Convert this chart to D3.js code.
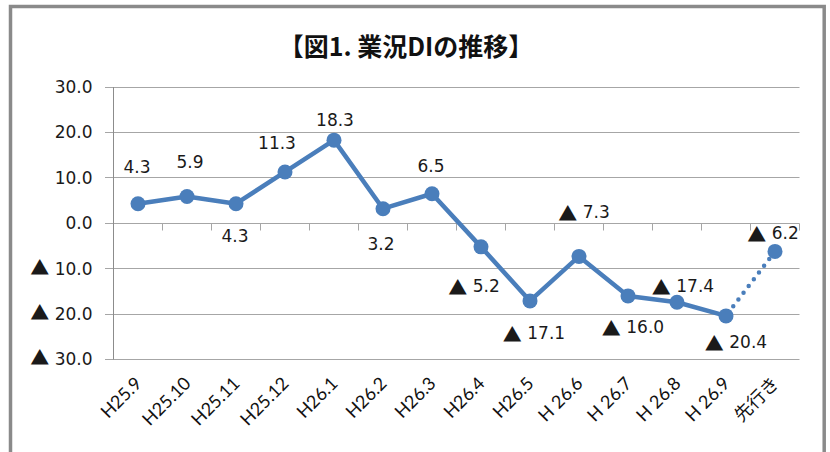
<!DOCTYPE html>
<html><head><meta charset="utf-8">
<script src="https://cdn.jsdelivr.net/npm/d3@7/dist/d3.min.js"></script>
<style>body{margin:0;background:#fff;} svg{display:block;}</style>
</head><body><svg id="chart" width="830" height="452"></svg>
<script>
// ---- data ----
const title = "【図1. 業況DIの推移】";
const categories = ["H25.9","H25.10","H25.11","H25.12","H26.1","H26.2","H26.3","H26.4","H26.5","H 26.6","H 26.7","H 26.8","H 26.9","先行き"];
const values = [4.3, 5.9, 4.3, 11.3, 18.3, 3.2, 6.5, -5.2, -17.1, -7.3, -16.0, -17.4, -20.4, -6.2];
const yTicks = [30, 20, 10, 0, -10, -20, -30];
const forecastCategory = "先行き";

// ---- layout / style (not data) ----
const labelOffsets = [[-1,-37],[3,-34],[-1,32],[-8,-29],[1,-20],[-2,35],[-1,-28],[-7,39],[4,32],[5,-44],[5,31],[6,-16],[10,26],[-2,-18]];
const W = 830, H = 452;
const plot = {left: 113.5, right: 799.5, top: 87, bottom: 359.5};
const blue = "#4a7ebb";
const numFont = "'DejaVu Sans', sans-serif";
const cjkFont = "'Noto Sans CJK JP', sans-serif";

const svg = d3.select("#chart");
svg.append("rect").attr("width", W).attr("height", H).attr("fill", "#fff");
svg.append("rect").attr("x", 10.5).attr("y", 6.5).attr("width", 813.7).attr("height", 520)
  .attr("fill", "none").attr("stroke", "#8a8a8a").attr("stroke-width", 3.5);

svg.append("text").attr("x", 406).attr("y", 45).attr("text-anchor", "middle")
  .attr("dominant-baseline", "central")
  .attr("font-family", cjkFont).attr("font-weight", "bold").attr("font-size", 25)
  .attr("fill", "#111").text(title);

const x = d3.scaleBand().domain(categories).range([plot.left, plot.right]);
const y = d3.scaleLinear().domain([-30, 30]).range([plot.bottom, plot.top]);
const cx = c => x(c) + x.bandwidth() / 2;
const crisp = v => Math.round(v - 0.5) + 0.5;

function writeValue(sel, v) {
  sel.text(null);
  if (v < 0) {
    sel.append("tspan").attr("font-family", cjkFont).attr("font-size", 19).text("▲");
    sel.append("tspan").text(" " + Math.abs(v).toFixed(1));
  } else {
    sel.append("tspan").text(v.toFixed(1));
  }
}

// gridlines
svg.append("g").selectAll("line").data(yTicks).join("line")
  .attr("x1", 105).attr("x2", plot.right)
  .attr("y1", d => crisp(y(d))).attr("y2", d => crisp(y(d)))
  .attr("stroke", "#a6a6a6").attr("stroke-width", 1);

// y axis
const yAxis = svg.append("g").attr("transform", `translate(${plot.left},0)`)
  .call(d3.axisLeft(y).tickValues(yTicks).tickSize(0).tickPadding(21));
yAxis.select(".domain").attr("stroke", "#8c8c8c").attr("d", `M0,${y(30)}V${y(-30)}`);
yAxis.selectAll(".tick text")
  .attr("font-family", numFont).attr("font-size", 17).attr("fill", "#1a1a1a")
  .each(function(d) { writeValue(d3.select(this), d); });

// category axis at zero with tick marks at band boundaries
const y0 = crisp(y(0));
svg.append("g").selectAll("line").data(categories.slice(1).concat([null])).join("line")
  .attr("x1", d => d === null ? plot.right : x(d)).attr("x2", d => d === null ? plot.right : x(d))
  .attr("y1", y0).attr("y2", y0 + 7)
  .attr("stroke", "#a6a6a6").attr("stroke-width", 1);

// category labels
svg.append("g").selectAll("text").data(categories).join("text")
  .attr("transform", d => `translate(${cx(d) + 5},${plot.bottom + 25}) rotate(-45)`)
  .attr("text-anchor", "end")
  .attr("font-family", "Lato, 'Noto Sans CJK JP', sans-serif").attr("font-size", 18)
  .attr("fill", "#111").text(d => d);

// line
const pts = categories.map((c, i) => ({c, v: values[i], i}));
const actual = pts.filter(p => p.c !== forecastCategory);
const forecast = pts.slice(pts.length - 2);
const line = d3.line().x(p => cx(p.c)).y(p => y(p.v));
svg.append("path").datum(actual).attr("d", line).attr("fill", "none")
  .attr("stroke", blue).attr("stroke-width", 4.5).attr("stroke-linejoin", "round");
svg.append("path").datum(forecast).attr("d", line).attr("fill", "none")
  .attr("stroke", blue).attr("stroke-width", 4.5).attr("stroke-linecap", "round")
  .attr("stroke-dasharray", "0 8.5").attr("stroke-dashoffset", -12);

svg.append("g").selectAll("circle").data(pts).join("circle")
  .attr("cx", p => cx(p.c)).attr("cy", p => y(p.v)).attr("r", 7.5).attr("fill", blue);

// data labels
svg.append("g").selectAll("text").data(pts).join("text")
  .attr("x", p => cx(p.c) + labelOffsets[p.i][0])
  .attr("y", p => y(p.v) + labelOffsets[p.i][1])
  .attr("text-anchor", "middle").attr("dominant-baseline", "central")
  .attr("font-family", numFont).attr("font-size", 17).attr("fill", "#1a1a1a")
  .each(function(p) { writeValue(d3.select(this), p.v); });
</script></body></html>
